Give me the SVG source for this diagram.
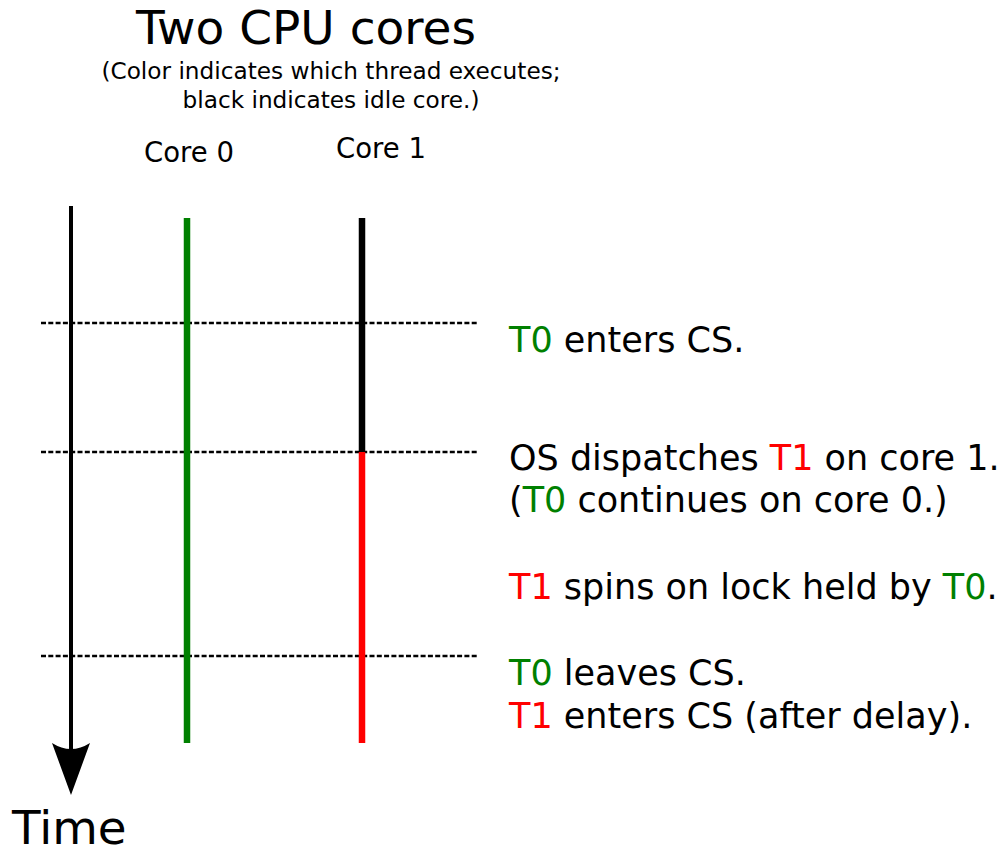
<svg xmlns="http://www.w3.org/2000/svg" width="1000" height="852" viewBox="0 0 1000 852">
<style>
text{font-family:"DejaVu Sans","Liberation Sans",sans-serif;fill:#000}
.g{fill:#008000}
.r{fill:#ff0000}
.lbl{font-size:35px}
.dash{stroke:#000;stroke-width:2.4;stroke-dasharray:5,2.3;fill:none}
.core{stroke-width:6.5;fill:none}
</style>
<rect width="1000" height="852" fill="#fff"/>
<g id="title">
<text x="306" y="44" font-size="47" text-anchor="middle">Two CPU cores</text>
<text x="331" y="79" font-size="23.2" text-anchor="middle">(Color indicates which thread executes;</text>
<text x="331" y="108" font-size="23.2" text-anchor="middle">black indicates idle core.)</text>
</g>
<g id="core0-label"><text x="189" y="162" font-size="27.5" text-anchor="middle">Core 0</text></g>
<g id="core1-label"><text x="381" y="158" font-size="27.5" text-anchor="middle">Core 1</text></g>
<g id="connectors">
<line class="dash" x1="41" y1="323" x2="477" y2="323"/>
<line class="dash" x1="41" y1="452" x2="477" y2="452"/>
<line class="dash" x1="41" y1="656" x2="477" y2="656"/>
<line x1="71" y1="206" x2="71" y2="752" stroke="#000" stroke-width="4"/>
<path d="M52,743 Q71,755 90,743 L71,795 Z" fill="#000"/>
<line class="core" x1="187" y1="218" x2="187" y2="743" stroke="#008000"/>
<line class="core" x1="362" y1="218" x2="362" y2="452" stroke="#000"/>
<line class="core" x1="362" y1="452" x2="362" y2="743" stroke="#ff0000"/>
</g>
<g id="time-label"><text x="12" y="844" font-size="46.8">Time</text></g>
<g id="event1"><text class="lbl" x="509" y="352"><tspan class="g">T0</tspan> enters CS.</text></g>
<g id="event2">
<text class="lbl" x="509" y="470">OS dispatches <tspan class="r">T1</tspan> on core 1.</text>
<text class="lbl" x="509" y="512">(<tspan class="g">T0</tspan> continues on core 0.)</text>
</g>
<g id="event3"><text class="lbl" x="509" y="599"><tspan class="r">T1</tspan> spins on lock held by <tspan class="g">T0</tspan>.</text></g>
<g id="event4">
<text class="lbl" x="509" y="685"><tspan class="g">T0</tspan> leaves CS.</text>
<text class="lbl" x="509" y="728"><tspan class="r">T1</tspan> enters CS (after delay).</text>
</g>
</svg>
